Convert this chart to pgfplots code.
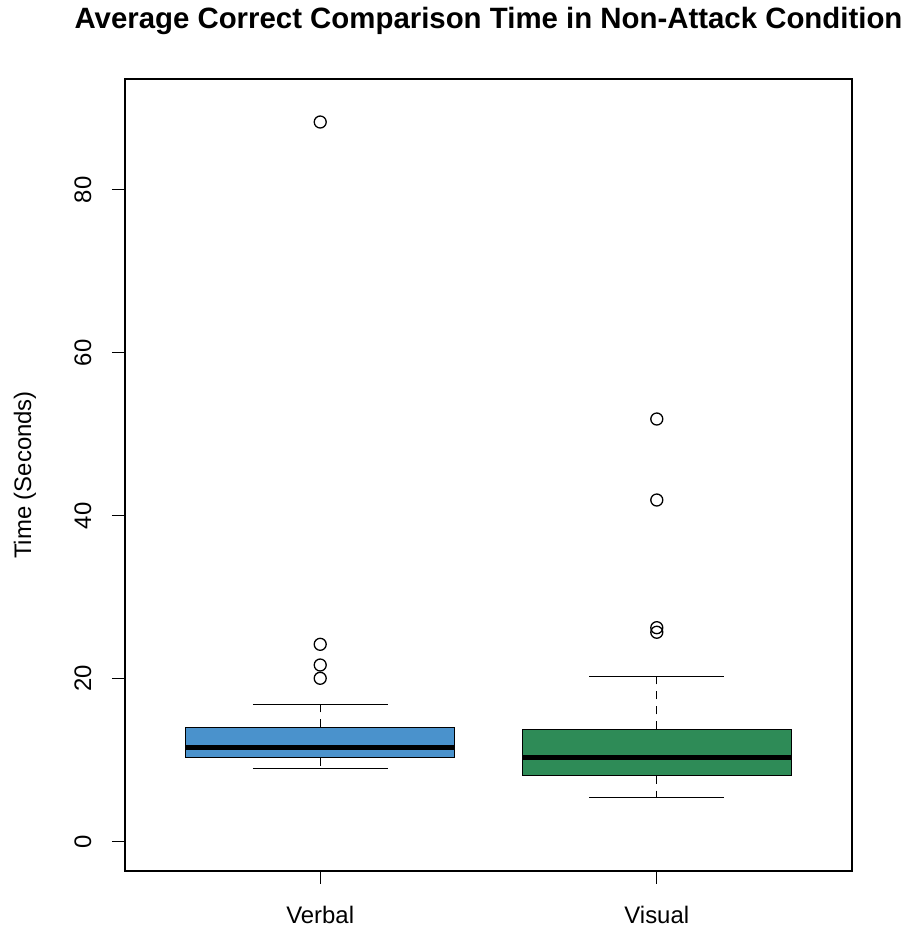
\documentclass[border=0pt]{standalone}
\usepackage{pgfplots}
\pgfplotsset{compat=1.18}
\usepackage{fontspec}
\setmainfont{Liberation Sans}
\definecolor{vblue}{RGB}{74,146,204}
\definecolor{vgreen}{RGB}{46,139,87}
\begin{document}
\begin{tikzpicture}[font=\fontsize{24}{29}\selectfont]
\useasboundingbox (0,0) rectangle (903bp,929bp);
\begin{axis}[
  at={(125bp,58bp)}, anchor=south west,
  scale only axis, width=727bp, height=792bp,
  xmin=0.42, xmax=2.58, ymin=-3.6, ymax=93.6,
  xtick={1,2}, xticklabels={Verbal,Visual},
  ytick={0,20,40,60,80},
  tick pos=left, tick align=outside,
  major tick length=13bp,
  every tick/.style={black, line width=1.2bp},
  axis line style={line width=1.3bp},
  /pgf/number format/assume math mode=true,
  yticklabel style={rotate=90, anchor=south},
  yticklabel shift=17bp,
  xticklabel shift=19bp,
  ylabel={Time (Seconds)},
  ylabel style={at={(axis description cs:-0.1376,0.5)}, anchor=center},
  title={\bfseries\fontsize{29.5}{35}\selectfont Average Correct Comparison Time in Non-Attack Condition},
  title style={at={(axis description cs:0.5,1.066)}, anchor=center},
  clip=false,
]
% Verbal
\addplot[draw=black, line width=1.3bp, fill=vblue] coordinates {(0.6,10.30) (1.4,10.30) (1.4,14.04) (0.6,14.04)} -- cycle;
\addplot[black, line width=4.5bp] coordinates {(0.6,11.58) (1.4,11.58)};
\addplot[black, line width=1.3bp, dash pattern=on 8bp off 7bp] coordinates {(1,14.04) (1,16.86)};
\addplot[black, line width=1.3bp, dash pattern=on 8bp off 7bp] coordinates {(1,10.30) (1,8.95)};
\addplot[black, line width=1.3bp] coordinates {(0.8,16.86) (1.2,16.86)};
\addplot[black, line width=1.3bp] coordinates {(0.8,8.95) (1.2,8.95)};
\addplot[only marks, mark=o, mark size=6bp, mark options={black, line width=1.3bp}] coordinates {(1,88.32) (1,24.22) (1,21.68) (1,20.05)};
% Visual
\addplot[draw=black, line width=1.3bp, fill=vgreen] coordinates {(1.6,8.10) (2.4,8.10) (2.4,13.79) (1.6,13.79)} -- cycle;
\addplot[black, line width=4.5bp] coordinates {(1.6,10.30) (2.4,10.30)};
\addplot[black, line width=1.3bp, dash pattern=on 8bp off 7bp] coordinates {(2,13.79) (2,20.25)};
\addplot[black, line width=1.3bp, dash pattern=on 8bp off 7bp] coordinates {(2,8.10) (2,5.45)};
\addplot[black, line width=1.3bp] coordinates {(1.8,20.25) (2.2,20.25)};
\addplot[black, line width=1.3bp] coordinates {(1.8,5.45) (2.2,5.45)};
\addplot[only marks, mark=o, mark size=6bp, mark options={black, line width=1.3bp}] coordinates {(2,51.87) (2,41.93) (2,26.26) (2,25.70)};
\end{axis}
\end{tikzpicture}
\end{document}
